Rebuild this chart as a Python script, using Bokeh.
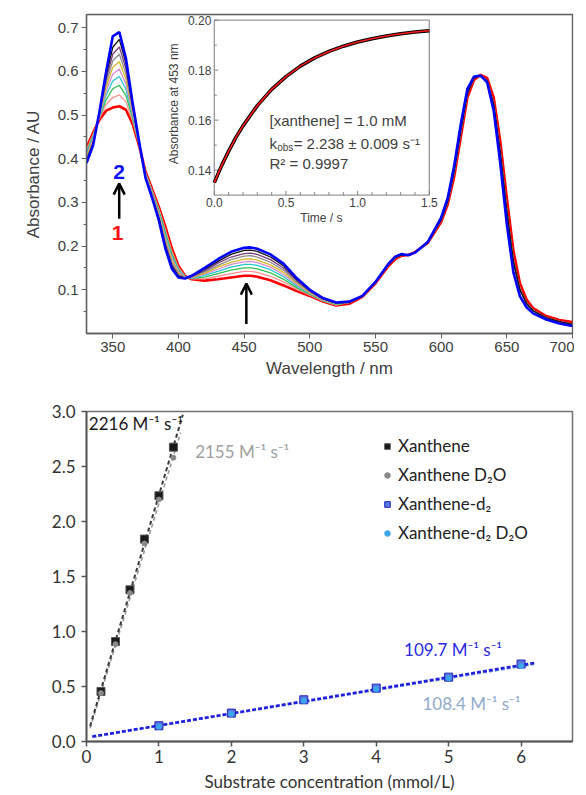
from math import pi
from bokeh.plotting import figure
from bokeh.models import (Range1d, FixedTicker, Label, Arrow, OpenHead, Legend, LegendItem,
                          PrintfTickFormatter, BoxAnnotation)
from bokeh.layouts import column
from bokeh.embed import file_html
from bokeh.resources import INLINE
from bokeh.core.properties import value

# ---------------- DATA : panel A (UV-vis spectra) ----------------
wl_head = [330, 335, 340, 345, 350, 355, 360, 365, 370, 375, 380, 385, 390, 395, 400, 405, 410,
           420, 430, 440, 450, 455, 460, 470, 480, 490, 500, 510, 520]
wl_tail = [530, 540, 550, 560, 565, 570, 575, 580, 590, 600, 605, 610, 615, 620, 625, 630, 635,
           640, 645, 650, 655, 660, 665, 670, 680, 690, 700]

spec_1 = [0.425, 0.46, 0.49, 0.51, 0.517, 0.52, 0.512, 0.48, 0.43, 0.37, 0.33, 0.29, 0.245, 0.195, 0.155, 0.132, 0.124,
          0.121, 0.124, 0.128, 0.132, 0.132, 0.13, 0.122, 0.11, 0.097, 0.086, 0.073, 0.064]
spec_a = [0.420, 0.456, 0.493, 0.524, 0.540, 0.546, 0.530, 0.488, 0.432, 0.368, 0.327, 0.286, 0.238, 0.188, 0.151, 0.131, 0.125,
          0.125, 0.131, 0.137, 0.142, 0.142, 0.140, 0.131, 0.118, 0.102, 0.088, 0.074, 0.065]
spec_b = [0.415, 0.452, 0.496, 0.535, 0.560, 0.568, 0.545, 0.494, 0.433, 0.366, 0.324, 0.282, 0.231, 0.182, 0.147, 0.130, 0.126,
          0.129, 0.137, 0.145, 0.150, 0.150, 0.148, 0.139, 0.124, 0.105, 0.090, 0.075, 0.066]
spec_c = [0.411, 0.448, 0.498, 0.546, 0.578, 0.588, 0.559, 0.500, 0.434, 0.364, 0.322, 0.278, 0.225, 0.176, 0.144, 0.130, 0.127,
          0.133, 0.142, 0.152, 0.158, 0.158, 0.156, 0.146, 0.130, 0.109, 0.092, 0.076, 0.067]
spec_d = [0.408, 0.445, 0.500, 0.555, 0.594, 0.605, 0.571, 0.505, 0.435, 0.363, 0.320, 0.275, 0.220, 0.172, 0.142, 0.129, 0.128,
          0.136, 0.147, 0.158, 0.164, 0.165, 0.162, 0.152, 0.135, 0.112, 0.093, 0.077, 0.068]
spec_e = [0.404, 0.442, 0.502, 0.564, 0.609, 0.622, 0.583, 0.510, 0.436, 0.361, 0.318, 0.272, 0.215, 0.167, 0.139, 0.128, 0.129,
          0.138, 0.152, 0.163, 0.170, 0.171, 0.168, 0.157, 0.140, 0.115, 0.094, 0.078, 0.068]
spec_f = [0.401, 0.439, 0.504, 0.573, 0.624, 0.639, 0.595, 0.515, 0.437, 0.360, 0.316, 0.269, 0.210, 0.162, 0.136, 0.128, 0.130,
          0.141, 0.156, 0.169, 0.177, 0.178, 0.175, 0.163, 0.145, 0.118, 0.096, 0.079, 0.069]
spec_g = [0.397, 0.436, 0.506, 0.582, 0.639, 0.656, 0.606, 0.520, 0.438, 0.358, 0.314, 0.266, 0.205, 0.157, 0.133, 0.127, 0.130,
          0.144, 0.161, 0.175, 0.183, 0.184, 0.181, 0.169, 0.150, 0.121, 0.097, 0.079, 0.070]
spec_h = [0.394, 0.433, 0.508, 0.591, 0.655, 0.673, 0.618, 0.525, 0.439, 0.357, 0.312, 0.263, 0.200, 0.153, 0.131, 0.127, 0.131,
          0.147, 0.165, 0.181, 0.190, 0.191, 0.188, 0.175, 0.155, 0.124, 0.099, 0.080, 0.070]
spec_2 = [0.39, 0.43, 0.51, 0.6, 0.68, 0.69, 0.63, 0.53, 0.44, 0.355, 0.31, 0.26, 0.195, 0.148, 0.128, 0.126, 0.132,
          0.15, 0.17, 0.187, 0.196, 0.197, 0.194, 0.181, 0.16, 0.127, 0.1, 0.081, 0.071]

tail_red = [0.068, 0.084, 0.115, 0.155, 0.17, 0.178, 0.18, 0.186, 0.208, 0.255, 0.295, 0.36, 0.45, 0.54, 0.58, 0.592, 0.585,
            0.54, 0.44, 0.31, 0.19, 0.115, 0.078, 0.058, 0.04, 0.031, 0.026]
tail_mid = [0.071, 0.085, 0.117, 0.158, 0.174, 0.18, 0.179, 0.185, 0.209, 0.26, 0.302, 0.372, 0.465, 0.55, 0.585, 0.591, 0.578,
            0.525, 0.415, 0.28, 0.165, 0.1, 0.069, 0.052, 0.036, 0.027, 0.021]
tail_blue = [0.073, 0.086, 0.118, 0.16, 0.176, 0.182, 0.179, 0.185, 0.21, 0.265, 0.31, 0.385, 0.48, 0.56, 0.588, 0.59, 0.575,
             0.51, 0.39, 0.25, 0.14, 0.085, 0.06, 0.046, 0.032, 0.023, 0.017]

xticks_A = [350, 400, 450, 500, 550, 600, 650, 700]
yticks_A = [0.1, 0.2, 0.3, 0.4, 0.5, 0.6, 0.7]
yminor_A = [0.05, 0.15, 0.25, 0.35, 0.45, 0.55, 0.65]

# inset kinetic trace
inset_time = [0.0, 0.05, 0.1, 0.15, 0.2, 0.3, 0.4, 0.5, 0.6, 0.7, 0.8, 0.9, 1.0, 1.1, 1.2, 1.3, 1.4, 1.5]
inset_abs = [0.135, 0.1417, 0.1476, 0.153, 0.1577, 0.1658, 0.1723, 0.1774, 0.1816, 0.1849, 0.1875, 0.1896,
             0.1913, 0.1926, 0.1937, 0.1946, 0.1953, 0.1958]
inset_xticks = [0.0, 0.5, 1.0, 1.5]
inset_xtick_labels = ["0.0", "0.5", "1.0", "1.5"]
inset_xminor = [0.1, 0.2, 0.3, 0.4, 0.6, 0.7, 0.8, 0.9, 1.1, 1.2, 1.3, 1.4]
inset_yticks = [0.14, 0.16, 0.18, 0.20]
inset_ytick_labels = ["0.14", "0.16", "0.18", "0.20"]
inset_yminor = [0.15, 0.17, 0.19]

# ---------------- DATA : panel B (kobs vs concentration) ----------------
conc_h = [0.2, 0.4, 0.6, 0.8, 1.0, 1.2]
kobs_h = [0.455, 0.909, 1.379, 1.84, 2.234, 2.676]
kobs_h_d2o = [0.44, 0.885, 1.35, 1.80, 2.20, 2.58]
conc_d = [1, 2, 3, 4, 5, 6]
kobs_d = [0.143, 0.258, 0.379, 0.485, 0.585, 0.704]
kobs_d_d2o = [0.135, 0.25, 0.37, 0.475, 0.575, 0.685]

fit_h_x = [0.05, 1.33]
fit_h_y = [0.14, 2.97]
fit_hd_x = [0.05, 1.30]
fit_hd_y = [0.12, 2.81]
fit_d_x = [0.08, 6.2]
fit_d_y = [0.045, 0.716]
fit_dd_x = [0.08, 6.2]
fit_dd_y = [0.04, 0.703]

xticks_B = [0, 1, 2, 3, 4, 5, 6]
yticks_B = [0.0, 0.5, 1.0, 1.5, 2.0, 2.5, 3.0]

# ---------------- PANEL A ----------------
FA = "Liberation Sans"
TXT = "#404040"
AX = "#606060"

pA = figure(width=574, height=382, x_range=Range1d(330, 700), y_range=Range1d(0, 0.73),
            output_backend="svg", toolbar_location=None,
            min_border_left=82, min_border_right=2, min_border_top=14, min_border_bottom=49)
pA.grid.visible = False
pA.outline_line_color = AX
pA.outline_line_width = 1.3
pA.add_layout(BoxAnnotation(left=330, right=700, bottom=0, top=0.73, fill_alpha=0,
                            line_color=AX, line_width=1.3))
pA.xaxis.ticker = FixedTicker(ticks=xticks_A)
pA.yaxis.ticker = FixedTicker(ticks=yticks_A, minor_ticks=yminor_A)
for ax in (pA.xaxis[0], pA.yaxis[0]):
    ax.axis_line_color = AX
    ax.axis_line_width = 1.3
    ax.major_tick_line_color = AX
    ax.major_tick_out = 5
    ax.major_tick_in = 0
    ax.minor_tick_line_color = AX
    ax.minor_tick_out = 3
    ax.minor_tick_in = 0
    ax.major_label_text_font = FA
    ax.major_label_text_font_size = "15px"
    ax.major_label_text_color = TXT
    ax.axis_label_text_font = FA
    ax.axis_label_text_font_size = "17px"
    ax.axis_label_text_font_style = "normal"
    ax.axis_label_text_color = TXT
    ax.major_label_standoff = 3
    ax.axis_label_standoff = 4
pA.yaxis.axis_label_standoff = 12
pA.xaxis.minor_tick_line_color = None
pA.xaxis.axis_label = "Wavelength / nm"
pA.yaxis.axis_label = "Absorbance / AU"

heads = [spec_1, spec_a, spec_b, spec_c, spec_d, spec_e, spec_f, spec_g, spec_h, spec_2]
tails = [tail_red] + [tail_mid] * 8 + [tail_blue]
colors = ["#ff0000", "#ff9090", "#2fbf4f", "#22c8d0", "#d58ad5", "#d8b820", "#8c8c8c", "#7a3d7a", "#111111", "#0000ff"]
widths = [2.6] + [1.3] * 8 + [2.6]
for h, t, c, w in zip(heads, tails, colors, widths):
    pA.line(wl_head + wl_tail, h + t, line_color=c, line_width=w)

# arrows and numbers
pA.add_layout(Arrow(end=OpenHead(size=11, line_width=2.5, line_color="black"),
                    x_start=354.9, y_start=0.2625, x_end=354.9, y_end=0.343,
                    line_width=2.5, line_color="black"))
pA.add_layout(Arrow(end=OpenHead(size=11, line_width=2.5, line_color="black"),
                    x_start=451.7, y_start=0.022, x_end=451.7, y_end=0.114,
                    line_width=2.5, line_color="black"))
pA.add_layout(Label(x=354.9, y=0.370, text="2", text_color="#1010ff", text_font=FA, text_font_size="21px",
                    text_font_style="bold", text_align="center", text_baseline="middle"))
pA.add_layout(Label(x=353.6, y=0.230, text="1", text_color="#ff1010", text_font=FA, text_font_size="21px",
                    text_font_style="bold", text_align="center", text_baseline="middle"))
pA.add_layout(Label(x=283.2, y=0.689, text="A", text_color="#222222", text_font=FA, text_font_size="25px",
                    text_align="center", text_baseline="middle"))

# inset
ins = pA.subplot(x_source=Range1d(0, 1.5), y_source=Range1d(0.13, 0.20),
                 x_target=Range1d(427.3, 591.0), y_target=Range1d(0.3167, 0.717))
ins.quad(left=[0], right=[1.5], bottom=[0.13], top=[0.20], fill_color="white",
         line_color="#9a9a9a", line_width=1.3)
ins.segment(x0=inset_xticks, y0=[0.13] * 4, x1=inset_xticks, y1=[0.1317] * 4, line_color="#808080", line_width=1)
ins.segment(x0=inset_xminor, y0=[0.13] * 12, x1=inset_xminor, y1=[0.1312] * 12, line_color="#808080", line_width=1)
ins.segment(x0=[0] * 4, y0=inset_yticks, x1=[0.028] * 4, y1=inset_yticks, line_color="#808080", line_width=1)
ins.segment(x0=[0] * 3, y0=inset_yminor, x1=[0.018] * 3, y1=inset_yminor, line_color="#808080", line_width=1)
ins.text(x=inset_xticks, y=[0.13] * 4, text=inset_xtick_labels, y_offset=3, text_align="center",
         text_baseline="top", text_font=value(FA), text_font_size="12px", text_color=TXT)
ins.text(x=[0] * 4, y=inset_yticks, text=inset_ytick_labels, x_offset=-3, text_align="right",
         text_baseline="middle", text_font=value(FA), text_font_size="12px", text_color=TXT)
ins.line(inset_time, inset_abs, line_color="black", line_width=3.6)
ins.line(inset_time, inset_abs, line_color="#ff1a1a", line_width=1.6)

pA.add_layout(Label(x=396.4, y=0.5256, text="Absorbance at 453 nm", angle=pi / 2, text_font=FA,
                    text_font_size="12px", text_color=TXT, text_align="center", text_baseline="middle"))
pA.add_layout(Label(x=508.8, y=0.2632, text="Time / s", text_font=FA,
                    text_font_size="12px", text_color=TXT, text_align="center", text_baseline="middle"))
pA.add_layout(Label(x=469.3, y=0.4867, text="[xanthene] = 1.0 mM", text_font=FA,
                    text_font_size="15px", text_color=TXT, text_align="left", text_baseline="middle"))
pA.add_layout(Label(x=469.3, y=0.4341, text="k", text_font=FA,
                    text_font_size="15px", text_color=TXT, text_align="left", text_baseline="middle"))
pA.add_layout(Label(x=475.2, y=0.4250, text="obs", text_font=FA,
                    text_font_size="10px", text_color=TXT, text_align="left", text_baseline="middle"))
pA.add_layout(Label(x=487.7, y=0.4341, text=" = 2.238 \u00b1 0.009 s\u207b\u00b9", text_font=FA,
                    text_font_size="15px", text_color=TXT, text_align="left", text_baseline="middle"))
pA.add_layout(Label(x=469.3, y=0.3883, text="R\u00b2 = 0.9997", text_font=FA,
                    text_font_size="15px", text_color=TXT, text_align="left", text_baseline="middle"))

# ---------------- PANEL B ----------------
FB = "Lato"
TB = "#333333"
pB = figure(width=574, height=412, x_range=Range1d(0, 6.71), y_range=Range1d(0, 3.0),
            output_backend="svg", toolbar_location=None,
            min_border_left=86, min_border_right=1, min_border_top=29, min_border_bottom=52)
pB.grid.visible = False
pB.outline_line_color = "#707070"
pB.outline_line_width = 1.5
pB.xaxis.ticker = FixedTicker(ticks=xticks_B)
pB.yaxis.ticker = FixedTicker(ticks=yticks_B)
pB.yaxis.formatter = PrintfTickFormatter(format="%.1f")
for ax in (pB.xaxis[0], pB.yaxis[0]):
    ax.axis_line_color = "#555555"
    ax.axis_line_width = 1.8
    ax.major_tick_line_color = "#555555"
    ax.major_tick_line_width = 1.5
    ax.major_tick_out = 5
    ax.major_tick_in = 0
    ax.minor_tick_line_color = None
    ax.major_label_text_font = FB
    ax.major_label_text_font_size = "17px"
    ax.major_label_text_color = TB
    ax.axis_label_text_font = FB
    ax.axis_label_text_font_size = "17px"
    ax.axis_label_text_font_style = "normal"
    ax.axis_label_text_color = TB
    ax.major_label_standoff = 3
    ax.axis_label_standoff = 5
pB.yaxis.major_label_standoff = 6
pB.xaxis.axis_label = "Substrate concentration (mmol/L)"

pB.line(fit_hd_x, fit_hd_y, line_color="#9a9a9a", line_width=1.6, line_dash="4 3")
pB.line(fit_h_x, fit_h_y, line_color="#3a3a3a", line_width=2.0, line_dash="4 3")
pB.line(fit_dd_x, fit_dd_y, line_color="#7f9fd0", line_width=1.6, line_dash="4 2")
pB.line(fit_d_x, fit_d_y, line_color="#1f1fe0", line_width=2.6, line_dash="4 2")

r_h = pB.scatter(conc_h, kobs_h, marker="square", size=8, fill_color="#1a1a1a", line_color="#555555")
r_hd = pB.scatter(conc_h, kobs_h_d2o, marker="circle", size=5, fill_color="#8a8a8a", line_color="#8a8a8a")
r_d = pB.scatter(conc_d, kobs_d, marker="square", size=8, fill_color="#5a7ae0", line_color="#2020c0")
r_dd = pB.scatter(conc_d, kobs_d_d2o, marker="circle", size=5, fill_color="#3aa6ee", line_color="#3aa6ee")

legend = Legend(items=[LegendItem(label="Xanthene", renderers=[r_h]),
                       LegendItem(label="Xanthene D\u2082O", renderers=[r_hd]),
                       LegendItem(label="Xanthene-d\u2082", renderers=[r_d]),
                       LegendItem(label="Xanthene-d\u2082 D\u2082O", renderers=[r_dd])],
                location=(294, 198), padding=0, margin=0, spacing=8, glyph_width=14, glyph_height=20,
                label_height=20, label_standoff=4, label_text_font=FB, label_text_font_size="17px",
                label_text_color="#222222", border_line_color=None, background_fill_alpha=0)
pB.add_layout(legend)

rate_font = "17px"
pB.add_layout(Label(x=0.032, y=2.895, text="2216 M\u207b\u00b9 s\u207b\u00b9", text_font=FB, text_font_size=rate_font,
                    text_color="#1a1a1a", text_align="left", text_baseline="middle"))
pB.add_layout(Label(x=1.50, y=2.636, text="2155 M\u207b\u00b9 s\u207b\u00b9", text_font=FB, text_font_size=rate_font,
                    text_color="#a0a0a0", text_align="left", text_baseline="middle"))
pB.add_layout(Label(x=4.384, y=0.834, text="109.7 M\u207b\u00b9 s\u207b\u00b9", text_font=FB, text_font_size=rate_font,
                    text_color="#2a2ae0", text_align="left", text_baseline="middle"))
pB.add_layout(Label(x=4.638, y=0.349, text="108.4 M\u207b\u00b9 s\u207b\u00b9", text_font=FB, text_font_size=rate_font,
                    text_color="#8fa9c9", text_align="left", text_baseline="middle"))

# y-axis title built from pieces (k with subscript obs)
pB.add_layout(Label(x=-0.744, y=1.2245, text="k", angle=pi / 2, text_font=FB, text_font_size="17px",
                    text_color=TB, text_align="left", text_baseline="middle"))
pB.add_layout(Label(x=-0.689, y=1.306, text="obs", angle=pi / 2, text_font=FB, text_font_size="12px",
                    text_color=TB, text_align="left", text_baseline="middle"))
pB.add_layout(Label(x=-0.744, y=1.479, text=" (s\u207b\u00b9)", angle=pi / 2, text_font=FB, text_font_size="17px",
                    text_color=TB, text_align="left", text_baseline="middle"))
pB.add_layout(Label(x=-0.886, y=3.015, text="B", text_font=FB, text_font_size="26px",
                    text_color="#2a2418", text_align="center", text_baseline="middle"))

layout = column(pA, pB)
open("out.html", "w").write(file_html(layout, INLINE))
